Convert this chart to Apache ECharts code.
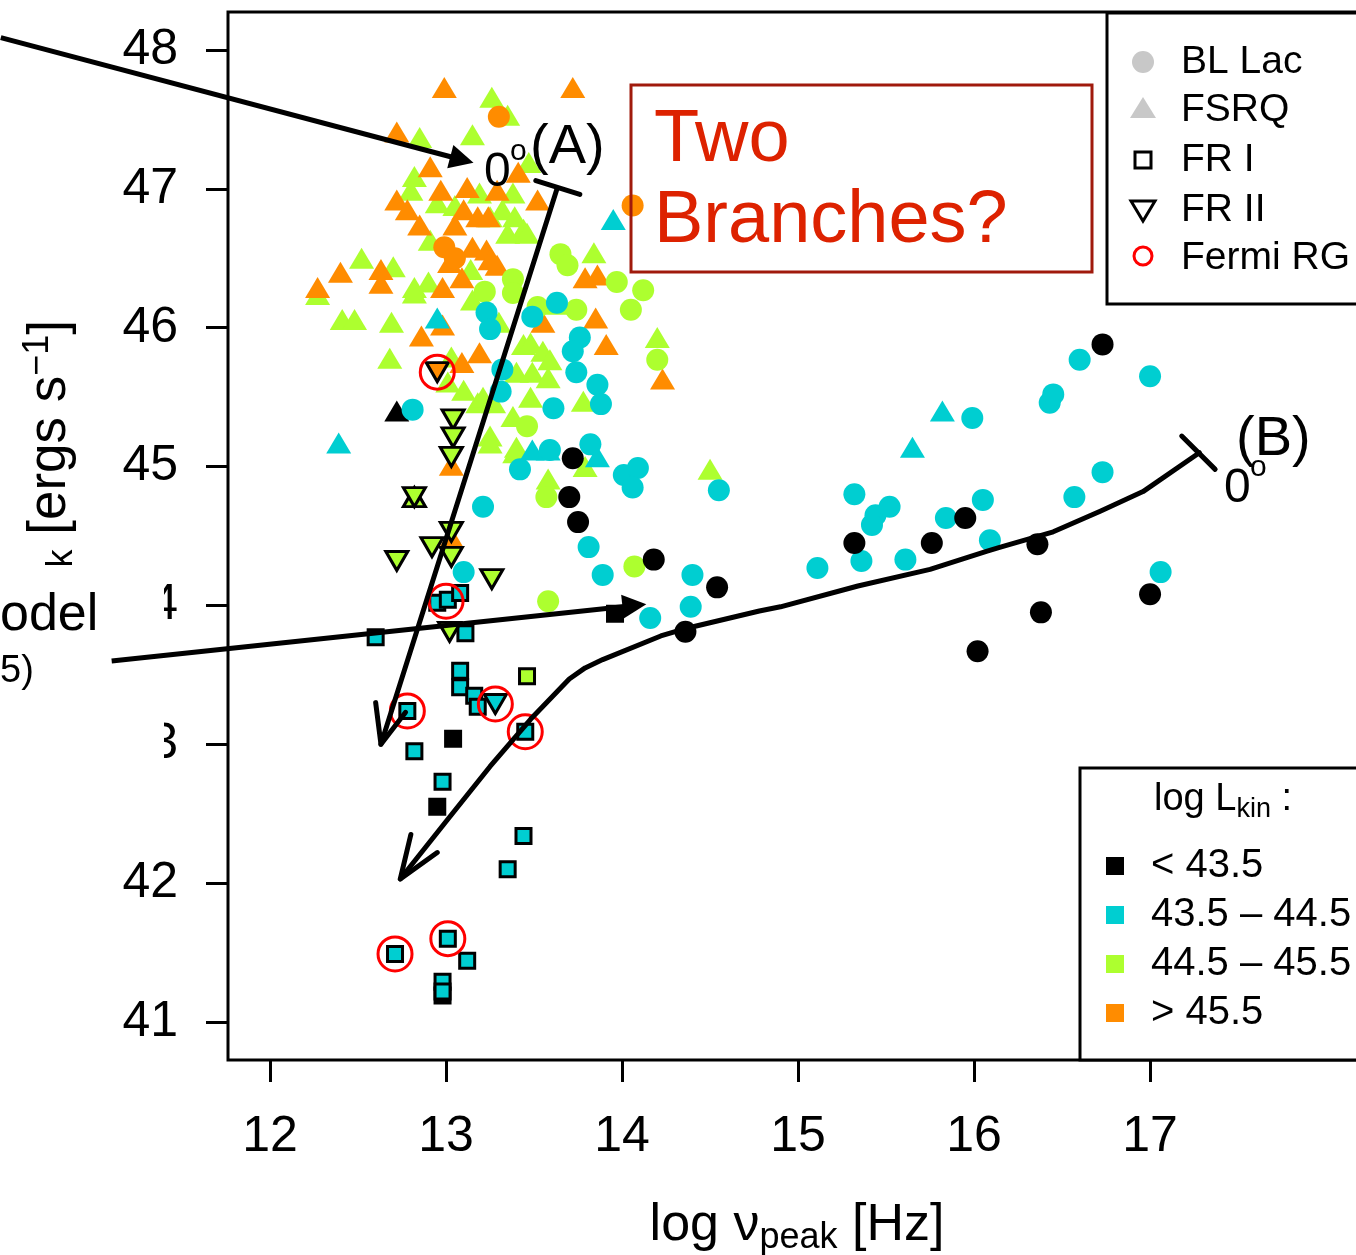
<!DOCTYPE html>
<html>
<head>
<meta charset="utf-8">
<script src="https://cdn.jsdelivr.net/npm/echarts@6/dist/echarts.min.js"></script>
<style>
  html, body { margin: 0; padding: 0; background: #ffffff; }
  #chart { width: 1356px; height: 1255px; }
</style>
</head>
<body>
<div id="chart"></div>
<script>
// Axis ticks
const xTicks = [12, 13, 14, 15, 16, 17];
const yTicks = [41, 42, 43, 44, 45, 46, 47, 48];

// BL Lacs (circles), by log L_kin class
const blLacLow = [[13.72,45.06],[13.70,44.78],[13.75,44.60],[14.18,44.33],[14.54,44.13],[14.36,43.81],[15.32,44.45],[15.76,44.45],[15.95,44.63],[16.36,44.44],[16.38,43.95],[16.02,43.67],[16.73,45.88],[17.00,44.08]];
const blLacMid = [[12.81,45.41],[13.23,46.11],[13.25,45.99],[13.49,46.08],[13.63,46.18],[13.76,45.93],[13.72,45.83],[13.74,45.68],[13.32,45.70],[13.31,45.54],[13.86,45.59],[13.88,45.45],[13.61,45.42],[13.82,45.16],[13.42,44.98],[13.59,45.12],[13.21,44.71],[13.10,44.24],[14.01,44.94],[14.09,44.99],[14.06,44.85],[14.55,44.83],[13.81,44.42],[13.89,44.22],[14.40,44.22],[14.39,43.99],[14.16,43.91],[16.43,45.46],[16.45,45.52],[15.99,45.35],[15.32,44.80],[15.44,44.65],[15.42,44.58],[15.52,44.71],[16.05,44.76],[15.84,44.63],[16.09,44.47],[15.11,44.27],[15.36,44.32],[15.61,44.33],[16.60,45.77],[17.00,45.65],[16.73,44.96],[16.57,44.78],[17.06,44.24]];
const blLacHigh = [[13.65,46.53],[13.69,46.45],[13.97,46.33],[14.12,46.27],[14.05,46.13],[14.20,45.77],[13.22,46.26],[13.38,46.35],[13.38,46.25],[13.52,46.15],[13.74,46.13],[13.46,45.29],[13.57,44.78],[14.07,44.28],[13.58,44.03]];
const blLacTop = [[13.30,47.52],[14.06,46.88],[12.99,46.58],[13.05,46.50]];

// FSRQs (triangles), by log L_kin class
const fsrqLow = [[12.72,45.40]];
const fsrqMid = [[12.39,45.17],[13.95,46.78],[12.95,46.07],[13.49,45.12],[13.58,45.12],[13.86,45.07],[15.82,45.40],[15.65,45.14]];
const fsrqHigh = [[13.26,47.66],[13.35,47.53],[13.15,47.39],[12.85,47.37],[12.82,47.09],[13.47,47.19],[13.19,46.97],[13.38,46.97],[13.25,46.80],[13.32,46.85],[13.39,46.80],[13.44,46.71],[13.35,46.68],[13.46,46.68],[13.84,46.54],[12.95,46.90],[12.80,46.99],[13.05,46.88],[12.91,46.63],[12.52,46.50],[12.27,46.24],[12.70,46.44],[12.82,46.29],[12.90,46.33],[12.82,46.25],[12.41,46.06],[12.48,46.06],[12.69,46.04],[12.68,45.78],[13.03,45.79],[13.01,45.61],[13.10,45.55],[13.18,45.46],[13.21,45.50],[13.27,45.46],[13.38,45.36],[13.25,45.22],[13.40,45.14],[13.48,45.50],[13.78,45.47],[13.40,45.68],[13.49,45.68],[13.58,45.64],[13.44,45.88],[13.48,45.89],[13.55,45.83],[13.59,45.77],[13.30,46.04],[13.63,46.17],[14.20,45.93],[14.50,44.98],[13.79,45.00],[13.58,44.91],[13.39,45.10],[13.25,45.17],[13.15,46.20],[13.14,46.42]];
const fsrqTop = [[12.99,47.73],[13.72,47.73],[12.72,47.41],[12.91,47.16],[12.72,46.92],[12.78,46.85],[13.12,47.01],[13.29,46.99],[13.41,47.12],[13.52,46.92],[13.10,46.85],[13.18,46.80],[13.24,46.80],[13.15,46.58],[13.23,46.56],[12.40,46.40],[12.27,46.29],[12.63,46.42],[12.63,46.32],[12.98,46.29],[13.02,46.47],[13.09,46.36],[12.86,45.94],[12.98,46.02],[13.19,45.82],[13.09,45.75],[13.25,46.49],[13.29,46.45],[13.79,46.36],[13.86,46.38],[13.55,46.04],[13.85,46.07],[13.91,45.88],[14.23,45.63],[13.03,45.01],[13.03,44.49],[12.85,46.74],[12.97,46.99],[13.05,46.74]];

// FR I radio galaxies (squares)
const fr1Low = [[13.04,43.04],[12.95,42.55],[12.98,41.19],[13.96,43.94]];
const fr1Mid = [[12.95,44.02],[13.01,44.04],[13.08,44.09],[13.11,43.80],[12.60,43.77],[13.08,43.53],[13.08,43.41],[13.16,43.35],[13.18,43.27],[12.78,43.24],[13.45,43.09],[12.82,42.95],[12.98,42.73],[13.44,42.34],[13.35,42.10],[12.71,41.49],[13.01,41.60],[13.12,41.44],[12.98,41.29],[12.98,41.22]];
const fr1High = [[13.46,43.49]];

// FR II radio galaxies (inverted triangles)
const fr2Mid = [[13.28,43.29]];
const fr2High = [[13.04,45.34],[13.04,45.21],[13.03,45.07],[12.82,44.78],[13.03,44.53],[12.92,44.42],[13.03,44.35],[12.72,44.32],[13.26,44.19],[13.02,43.81]];
const fr2Top = [[12.95,45.68]];
const fr2Upright = [[12.82,44.78]];

// Fermi-detected radio galaxies (open red rings)
const fermiRG = [[12.95,45.68],[13.00,44.03],[12.78,43.24],[13.28,43.29],[13.45,43.09],[12.71,41.49],[13.01,41.60]];

// Decelerating-jet model tracks
const trackA = [[13.63,47.00],[12.63,43.00]];
const trackAHead = [[12.60,43.30],[12.63,43.00],[12.77,43.23]];
const trackATick = [[13.51,47.06],[13.76,46.96]];
const trackB = [[17.28,45.10],[16.96,44.82],[16.72,44.68],[16.45,44.53],[16.15,44.42],[16.07,44.39],[15.75,44.26],[15.34,44.14],[14.90,43.99],[14.78,43.96],[14.35,43.83],[14.22,43.78],[13.89,43.61],[13.79,43.55],[13.70,43.47],[13.48,43.18],[13.25,42.84],[13.01,42.46],[12.74,42.03]];
const trackBHead = [[12.80,42.35],[12.74,42.03],[12.95,42.22]];
const trackBTick = [[17.18,45.22],[17.37,44.98]];

// Pointer arrows coming in from the left margin
const pointerArrows = [
  [[10.47,48.09],[13.09,47.21]],
  [[11.10,43.60],[14.07,44.00]]
];

const F = '"Liberation Sans", Arial, Helvetica, sans-serif';
const BLACK = '#000000', CYAN = '#00CED1', GREEN = '#ADFF2F', ORANGE = '#FF8C00';

function circles(data, color) {
  return { type: 'scatter', data, symbol: 'circle', symbolSize: 22, itemStyle: { color, opacity: 1 }, z: 3 };
}
function triangles(data, color) {
  return { type: 'scatter', data, symbol: 'triangle', symbolSize: [25, 21], itemStyle: { color, opacity: 1 }, z: 3 };
}
function squares(data, color) {
  return { type: 'scatter', data, symbol: 'rect', symbolSize: 15, itemStyle: { color, borderColor: '#000', borderWidth: 3, opacity: 1 }, z: 4 };
}
function invTriangles(data, color, rot) {
  return { type: 'scatter', data, symbol: 'triangle', symbolRotate: rot, symbolSize: [22, 19], itemStyle: { color, borderColor: '#000', borderWidth: 3, opacity: 1 }, z: 4 };
}
function path(data, z) {
  return { type: 'line', data, showSymbol: false, symbol: 'none', lineStyle: { color: '#000', width: 5, cap: 'round', join: 'round' }, z: z || 8, silent: true };
}

const series = [
  triangles(fsrqHigh, GREEN),
  triangles(fsrqTop, ORANGE),
  triangles(fsrqMid, CYAN),
  triangles(fsrqLow, BLACK),
  circles(blLacHigh, GREEN),
  circles(blLacMid, CYAN),
  circles(blLacTop, ORANGE),
  circles(blLacLow, BLACK),
  squares(fr1Low, BLACK),
  squares(fr1Mid, CYAN),
  squares(fr1High, GREEN),
  invTriangles(fr2Upright, GREEN, 0),
  invTriangles(fr2High, GREEN, 180),
  invTriangles(fr2Mid, CYAN, 180),
  invTriangles(fr2Top, ORANGE, 180),
  { type: 'scatter', data: fermiRG, symbol: 'circle', symbolSize: 34,
    itemStyle: { color: 'rgba(0,0,0,0)', borderColor: '#FF0000', borderWidth: 3, opacity: 1 }, z: 5 },
  path(trackA), path(trackAHead), path(trackATick),
  path(trackB), path(trackBHead), path(trackBTick),
  { type: 'lines', coordinateSystem: 'cartesian2d', clip: false, z: 10, silent: true,
    symbol: ['none', 'triangle'], symbolSize: [22, 24],
    lineStyle: { color: '#000', width: 5, opacity: 1, curveness: 0 },
    data: pointerArrows.map(c => ({ coords: c })) }
];

const legendRows = ['BL Lac', 'FSRQ', 'FR I', 'FR II', 'Fermi RG'];
const kinRows = [['< 43.5', BLACK], ['43.5 \u2013 44.5', CYAN], ['44.5 \u2013 45.5', GREEN], ['> 45.5', ORANGE]];
const rowY = [62, 110, 160, 210, 258];
const kinY = [866, 915, 964, 1013];

const graphics = [
  // white note panel over the left margin
  { type: 'rect', shape: { x: 0, y: 575, width: 164, height: 199 }, style: { fill: '#fff' }, z: 5 },
  { type: 'text', x: 0, y: 616, z: 6, style: { text: 'odel', fill: '#000', fontSize: 52, fontFamily: F, align: 'left', verticalAlign: 'middle' } },
  { type: 'text', x: 0, y: 672, z: 6, style: { text: '5)', fill: '#000', fontSize: 38, fontFamily: F, align: 'left', verticalAlign: 'middle' } },
  // y-axis title
  { type: 'text', x: 50, y: 320, rotation: Math.PI / 2, z: 4,
    style: { text: '{n|log L}{s|k}{n| [ergs s}{p|\u22121}{n|]}', fill: '#000', align: 'right', verticalAlign: 'middle',
      rich: {
        n: { fontSize: 53, fontFamily: F, lineHeight: 60, fill: '#000' },
        s: { fontSize: 36, fontFamily: F, lineHeight: 32, verticalAlign: 'bottom', padding: [0, 0, 0, 10], fill: '#000' },
        p: { fontSize: 36, fontFamily: F, lineHeight: 32, verticalAlign: 'top', fill: '#000' }
      } } },
  // "Two Branches?" box
  { type: 'rect', shape: { x: 631, y: 85, width: 461, height: 187 }, style: { fill: 'none', stroke: '#A01A0C', lineWidth: 3 }, z: 6 },
  { type: 'text', x: 654, y: 141, z: 6, style: { text: 'Two', fill: '#DD2200', fontSize: 74, fontFamily: F, align: 'left', verticalAlign: 'middle' } },
  { type: 'text', x: 654, y: 222, z: 6, style: { text: 'Branches?', fill: '#DD2200', fontSize: 74, fontFamily: F, align: 'left', verticalAlign: 'middle' } },
  // track labels
  { type: 'text', x: 484, y: 173, z: 6, style: { text: '0', fill: '#000', fontSize: 48, fontFamily: F, align: 'left', verticalAlign: 'middle' } },
  { type: 'text', x: 510, y: 152, z: 6, style: { text: 'o', fill: '#000', fontSize: 30, fontFamily: F, align: 'left', verticalAlign: 'middle' } },
  { type: 'text', x: 530, y: 148, z: 6, style: { text: '(A)', fill: '#000', fontSize: 56, fontFamily: F, align: 'left', verticalAlign: 'middle' } },
  { type: 'text', x: 1236, y: 440, z: 6, style: { text: '(B)', fill: '#000', fontSize: 56, fontFamily: F, align: 'left', verticalAlign: 'middle' } },
  { type: 'text', x: 1224, y: 489, z: 6, style: { text: '0', fill: '#000', fontSize: 48, fontFamily: F, align: 'left', verticalAlign: 'middle' } },
  { type: 'text', x: 1250, y: 468, z: 6, style: { text: 'o', fill: '#000', fontSize: 30, fontFamily: F, align: 'left', verticalAlign: 'middle' } },
  // source-type legend
  { type: 'rect', shape: { x: 1107, y: 13, width: 300, height: 291 }, style: { fill: '#fff', stroke: '#000', lineWidth: 3 }, z: 6 },
  { type: 'circle', shape: { cx: 1143, cy: 62, r: 11 }, style: { fill: '#C8C8C8' }, z: 7 },
  { type: 'polygon', shape: { points: [[1130, 118], [1156, 118], [1143, 97]] }, style: { fill: '#C8C8C8' }, z: 7 },
  { type: 'rect', shape: { x: 1135, y: 152, width: 16, height: 16 }, style: { fill: 'none', stroke: '#000', lineWidth: 3 }, z: 7 },
  { type: 'polygon', shape: { points: [[1131, 201], [1155, 201], [1143, 221]] }, style: { fill: 'none', stroke: '#000', lineWidth: 3 }, z: 7 },
  { type: 'circle', shape: { cx: 1143, cy: 256, r: 9 }, style: { fill: 'none', stroke: '#FF0000', lineWidth: 3 }, z: 7 },
  ...legendRows.map((t, i) => ({ type: 'text', x: 1181, y: rowY[i], z: 7,
    style: { text: t, fill: '#000', fontSize: 39, fontFamily: F, align: 'left', verticalAlign: 'middle' } })),
  // kinetic-luminosity legend
  { type: 'rect', shape: { x: 1080, y: 768, width: 320, height: 292 }, style: { fill: '#fff', stroke: '#000', lineWidth: 3 }, z: 6 },
  { type: 'text', x: 1154, y: 800, z: 7,
    style: { text: '{n|log L}{s|kin}{n| :}', fill: '#000', align: 'left', verticalAlign: 'middle',
      rich: {
        n: { fontSize: 38, fontFamily: F, lineHeight: 46, fill: '#000' },
        s: { fontSize: 27, fontFamily: F, lineHeight: 28, verticalAlign: 'bottom', fill: '#000' }
      } } },
  ...kinRows.map((r, i) => ({ type: 'rect', shape: { x: 1106, y: kinY[i] - 9, width: 18, height: 18 }, style: { fill: r[1] }, z: 7 })),
  ...kinRows.map((r, i) => ({ type: 'text', x: 1151, y: kinY[i], z: 7,
    style: { text: r[0], fill: '#000', fontSize: 40, fontFamily: F, align: 'left', verticalAlign: 'middle' } }))
];

const chart = echarts.init(document.getElementById('chart'), null, { renderer: 'canvas' });
chart.setOption({
  animation: false,
  backgroundColor: '#ffffff',
  grid: { left: 228, top: 12, width: 1138, height: 1048, show: true, borderColor: '#000', borderWidth: 3,
    backgroundColor: 'rgba(0,0,0,0)', containLabel: false, outerBoundsMode: 'none' },
  xAxis: {
    type: 'value', min: 11.761, max: 18.227,
    axisLine: { show: false },
    splitLine: { show: false },
    axisTick: { show: true, inside: false, length: 22, lineStyle: { color: '#000', width: 3 }, customValues: xTicks },
    axisLabel: { customValues: xTicks, margin: 52, fontSize: 50, fontFamily: F, color: '#000' },
    name: '{n|log \u03bd}{s|peak}{n| [Hz]}',
    nameLocation: 'middle', nameGap: 136,
    nameTextStyle: { color: '#000', fontFamily: F,
      rich: {
        n: { fontSize: 52, fontFamily: F, lineHeight: 60, color: '#000' },
        s: { fontSize: 36, fontFamily: F, lineHeight: 34, verticalAlign: 'bottom', color: '#000' }
      } }
  },
  yAxis: {
    type: 'value', min: 40.726, max: 48.274,
    axisLine: { show: false },
    splitLine: { show: false },
    axisTick: { show: true, inside: false, length: 22, lineStyle: { color: '#000', width: 3 }, customValues: yTicks },
    axisLabel: { customValues: yTicks, margin: 50, fontSize: 50, fontFamily: F, color: '#000' }
  },
  series,
  graphic: { elements: graphics }
});
</script>
</body>
</html>
